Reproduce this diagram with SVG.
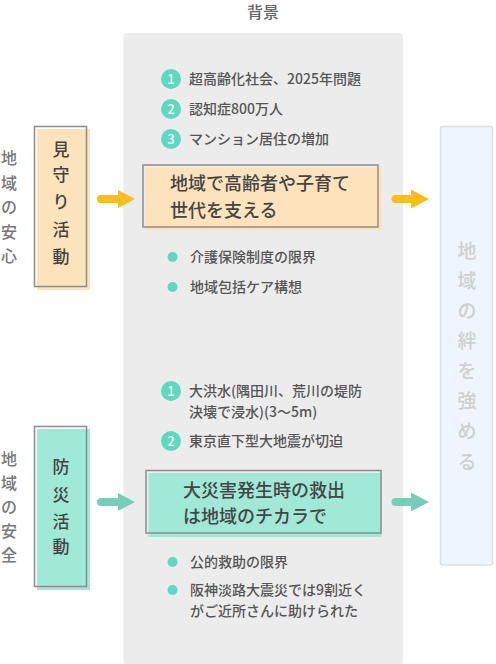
<svg xmlns="http://www.w3.org/2000/svg" width="496" height="664" viewBox="0 0 496 664">
<style>
text{font-family:"Noto Sans CJK JP","Noto Sans",sans-serif;}
.hd{font-size:16px;fill:#666;text-anchor:middle;font-weight:500;}
.side{font-size:16px;fill:#777;text-anchor:middle;font-weight:500;}
.vt{font-size:17px;fill:#444;text-anchor:middle;font-weight:500;}
.big{font-size:18px;fill:#444;font-weight:500;}
.li{font-size:14px;fill:#555;font-weight:500;}
.num{font-size:13px;fill:#fff;text-anchor:middle;font-weight:500;}
.rt{font-size:19px;fill:#cfcfcf;text-anchor:middle;font-weight:500;}
.frame{fill:none;stroke:#8c8c8c;stroke-width:1.5;}
.peach{fill:#fce3bc;}
.mint{fill:#a0e9d7;}
.circ{fill:#5cd9be;}
.dot{fill:#5cd9be;}
.yl{stroke:#fcbc19;stroke-width:8;stroke-linecap:round;fill:none;}
.yh{fill:#fcbc19;}
.tl{stroke:#78cdb8;stroke-width:8;stroke-linecap:round;fill:none;}
.th{fill:#78cdb8;}
</style>
<rect x="0" y="0" width="496" height="664" fill="#ffffff"/>
<text class="hd" x="263" y="18">背景</text>
<rect id="panel" x="123.5" y="33" width="279.5" height="632" rx="4" fill="#ececec"/>

<g id="label-anshin">
<text class="side" x="9" y="164">地</text>
<text class="side" x="9" y="189">域</text>
<text class="side" x="9" y="213">の</text>
<text class="side" x="9" y="238">安</text>
<text class="side" x="9" y="262">心</text>
</g>
<g id="label-anzen">
<text class="side" x="9" y="465">地</text>
<text class="side" x="9" y="489">域</text>
<text class="side" x="9" y="513">の</text>
<text class="side" x="9" y="537">安</text>
<text class="side" x="9" y="561">全</text>
</g>

<g id="mimamori">
<rect class="peach" x="37" y="129" width="53" height="161"/>
<rect class="frame" x="34.5" y="126.5" width="52" height="160"/>
<text class="vt" x="61" y="156">見</text>
<text class="vt" x="61" y="181">守</text>
<text class="vt" x="61" y="208">り</text>
<text class="vt" x="61" y="236">活</text>
<text class="vt" x="61" y="263">動</text>
</g>

<g id="bousai">
<rect class="mint" x="37" y="429" width="53" height="161"/>
<rect class="frame" x="34.5" y="426.5" width="52" height="160"/>
<text class="vt" x="61" y="473">防</text>
<text class="vt" x="61" y="501">災</text>
<text class="vt" x="61" y="528">活</text>
<text class="vt" x="61" y="553">動</text>
</g>

<g id="background-top">
<circle class="circ" cx="171" cy="79" r="10"/><text class="num" x="171" y="83.5">1</text>
<text class="li" x="189" y="84">超高齢化社会、2025年問題</text>
<circle class="circ" cx="171" cy="109" r="10"/><text class="num" x="171" y="113.5">2</text>
<text class="li" x="189" y="114">認知症800万人</text>
<circle class="circ" cx="171" cy="139" r="10"/><text class="num" x="171" y="143.5">3</text>
<text class="li" x="189" y="144">マンション居住の増加</text>
</g>

<g id="center-top">
<rect class="peach" x="145.5" y="167.5" width="236.5" height="63"/>
<rect class="frame" x="143" y="165" width="235" height="62"/>
<text class="big" x="170" y="190">地域で高齢者や子育て</text>
<text class="big" x="170" y="217">世代を支える</text>
</g>

<g id="notes-top">
<circle class="dot" cx="172.5" cy="257" r="5"/>
<text class="li" x="190" y="262">介護保険制度の限界</text>
<circle class="dot" cx="172.5" cy="287" r="5"/>
<text class="li" x="190" y="292">地域包括ケア構想</text>
</g>

<g id="background-bottom">
<circle class="circ" cx="171" cy="391" r="10"/><text class="num" x="171" y="395.5">1</text>
<text class="li" x="189" y="396">大洪水(隅田川、荒川の堤防</text>
<text class="li" x="189" y="417">決壊で浸水)(3〜5m)</text>
<circle class="circ" cx="171" cy="441" r="10"/><text class="num" x="171" y="445.5">2</text>
<text class="li" x="189" y="446">東京直下型大地震が切迫</text>
</g>

<g id="center-bottom">
<rect class="mint" x="148.5" y="473" width="233" height="64"/>
<rect class="frame" x="146" y="470.5" width="235" height="62.5"/>
<text class="big" x="183" y="496.5">大災害発生時の救出</text>
<text class="big" x="183" y="523">は地域のチカラで</text>
</g>

<g id="notes-bottom">
<circle class="dot" cx="172.5" cy="562" r="5"/>
<text class="li" x="190" y="567">公的救助の限界</text>
<circle class="dot" cx="172.5" cy="590" r="5"/>
<text class="li" x="190" y="595">阪神淡路大震災では9割近く</text>
<text class="li" x="190" y="616">がご近所さんに助けられた</text>
</g>

<g id="kizuna">
<rect x="440.5" y="126.5" width="52" height="438.5" rx="2" fill="#eef5fe" stroke="#dedede" stroke-width="1.5"/>
<text class="rt" x="467" y="258">地</text>
<text class="rt" x="467" y="288">域</text>
<text class="rt" x="467" y="318">の</text>
<text class="rt" x="467" y="348">絆</text>
<text class="rt" x="467" y="378">を</text>
<text class="rt" x="467" y="408">強</text>
<text class="rt" x="467" y="438">め</text>
<text class="rt" x="467" y="469">る</text>
</g>

<g id="connectors">
<line class="yl" x1="101" y1="199" x2="121" y2="199"/>
<polygon class="yh" points="118,190 135,199 118,208"/>
<line class="yl" x1="395.5" y1="199" x2="414" y2="199"/>
<polygon class="yh" points="411,189.5 429,199 411,208.5"/>
<line class="tl" x1="101" y1="502" x2="121" y2="502"/>
<polygon class="th" points="118,493 135,502 118,511"/>
<line class="tl" x1="395.5" y1="502" x2="414" y2="502"/>
<polygon class="th" points="411,492.5 429,502 411,511.5"/>
</g>
</svg>
